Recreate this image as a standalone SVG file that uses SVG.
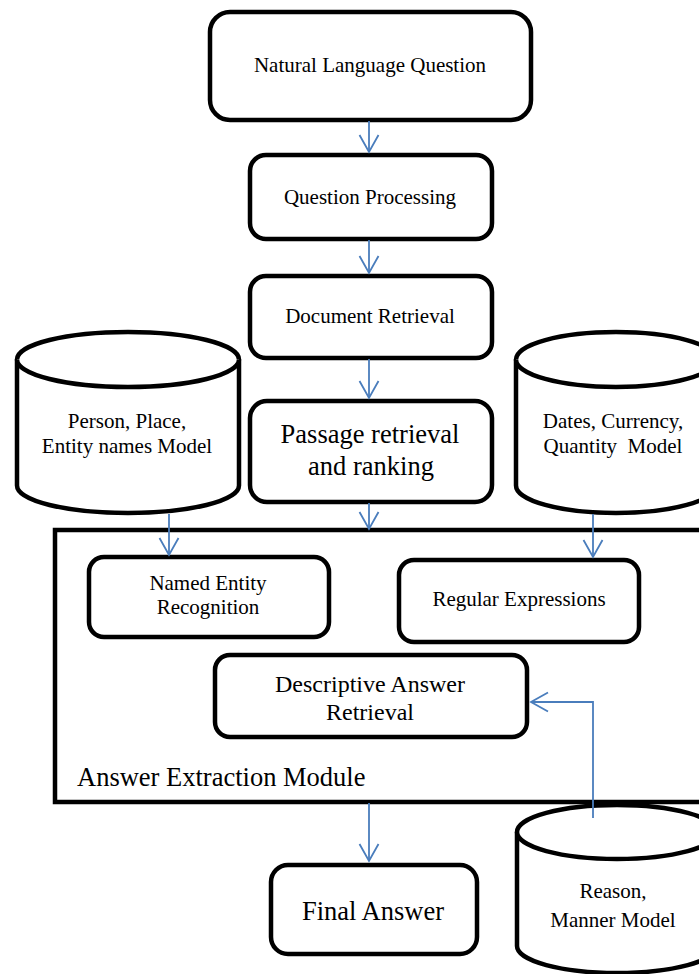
<svg xmlns="http://www.w3.org/2000/svg" width="699" height="974" viewBox="0 0 699 974">
<style>
  .box { fill: #ffffff; stroke: #000000; stroke-width: 4.5; }
  .cyl { fill: #ffffff; stroke: #000000; stroke-width: 4.5; }
  .frame { fill: none; stroke: #000000; stroke-width: 4.5; }
  .t { font-family: "Liberation Serif", "Times New Roman", serif; fill: #000000; text-anchor: middle; }
  .s { font-size: 21px; }
  .m { font-size: 24px; }
  .l { font-size: 26.5px; }
  .conn { fill: none; stroke: #4a7dbc; stroke-width: 1.8; marker-end: url(#arr); }
</style>
<defs>
  <marker id="arr" markerUnits="userSpaceOnUse" orient="auto" refX="0" refY="0" markerWidth="20" markerHeight="20" overflow="visible">
    <path d="M -17 -9.5 L 0 0 L -17 9.5" fill="none" stroke="#4a7dbc" stroke-width="1.8"/>
  </marker>
</defs>
<rect width="699" height="974" fill="#ffffff"/>

<g id="answer-extraction-module">
  <rect class="frame" x="55" y="530" width="680" height="272"/>
  <text class="t l" x="77" y="786" style="text-anchor:start">Answer Extraction Module</text>
</g>

<g id="natural-language-question">
  <rect class="box" x="210" y="12" width="321" height="108" rx="20"/>
  <text class="t s" x="370" y="72">Natural Language Question</text>
</g>

<g id="question-processing">
  <rect class="box" x="250" y="155" width="242" height="84" rx="16"/>
  <text class="t s" x="370" y="204">Question Processing</text>
</g>

<g id="document-retrieval">
  <rect class="box" x="250" y="276" width="242" height="82" rx="16"/>
  <text class="t s" x="370" y="323">Document Retrieval</text>
</g>

<g id="passage-retrieval">
  <rect class="box" x="250" y="401" width="242" height="101" rx="17"/>
  <text class="t l" x="370" y="443">Passage retrieval</text>
  <text class="t l" x="371" y="475">and ranking</text>
</g>

<g id="person-place-model">
  <path class="cyl" d="M 17 359.5 A 111 27.5 0 0 1 239 359.5 L 239 485.5 A 111 27.5 0 0 1 17 485.5 Z"/>
  <path class="cyl" d="M 17 359.5 A 111 27.5 0 0 0 239 359.5" fill="none"/>
  <text class="t s" x="127" y="428">Person, Place,</text>
  <text class="t s" x="127" y="453">Entity names Model</text>
</g>

<g id="dates-currency-model">
  <path class="cyl" d="M 516 359.5 A 100 27.5 0 0 1 716 359.5 L 716 485.5 A 100 27.5 0 0 1 516 485.5 Z"/>
  <path class="cyl" d="M 516 359.5 A 100 27.5 0 0 0 716 359.5" fill="none"/>
  <text class="t s" x="613" y="428">Dates, Currency,</text>
  <text class="t s" x="613" y="453" xml:space="preserve">Quantity  Model</text>
</g>

<g id="named-entity-recognition">
  <rect class="box" x="89" y="557" width="240" height="80" rx="15"/>
  <text class="t s" x="208" y="590">Named Entity</text>
  <text class="t s" x="208" y="614">Recognition</text>
</g>

<g id="regular-expressions">
  <rect class="box" x="399" y="560" width="240" height="82" rx="15"/>
  <text class="t s" x="519" y="606">Regular Expressions</text>
</g>

<g id="descriptive-answer-retrieval">
  <rect class="box" x="215" y="655" width="312" height="82" rx="15"/>
  <text class="t m" x="370" y="692">Descriptive Answer</text>
  <text class="t m" x="370" y="720">Retrieval</text>
</g>

<g id="final-answer">
  <rect class="box" x="271" y="865" width="206" height="89" rx="17"/>
  <text class="t l" x="373" y="920">Final Answer</text>
</g>

<g id="reason-manner-model">
  <path class="cyl" d="M 517 832 A 100 27 0 0 1 717 832 L 717 946 A 100 27 0 0 1 517 946 Z"/>
  <path class="cyl" d="M 517 832 A 100 27 0 0 0 717 832" fill="none"/>
  <text class="t s" x="613" y="898">Reason,</text>
  <text class="t s" x="613" y="927">Manner Model</text>
</g>

<g id="connectors">
  <line class="conn" x1="369" y1="121" x2="369" y2="152"/>
  <line class="conn" x1="369" y1="240" x2="369" y2="273"/>
  <line class="conn" x1="369" y1="359" x2="369" y2="398"/>
  <line class="conn" x1="369" y1="503" x2="369" y2="529"/>
  <line class="conn" x1="169" y1="514" x2="169" y2="555"/>
  <line class="conn" x1="593" y1="514" x2="593" y2="557"/>
  <line class="conn" x1="369" y1="803" x2="369" y2="861"/>
  <polyline class="conn" points="593,818 593,702 531,702"/>
</g>
</svg>
